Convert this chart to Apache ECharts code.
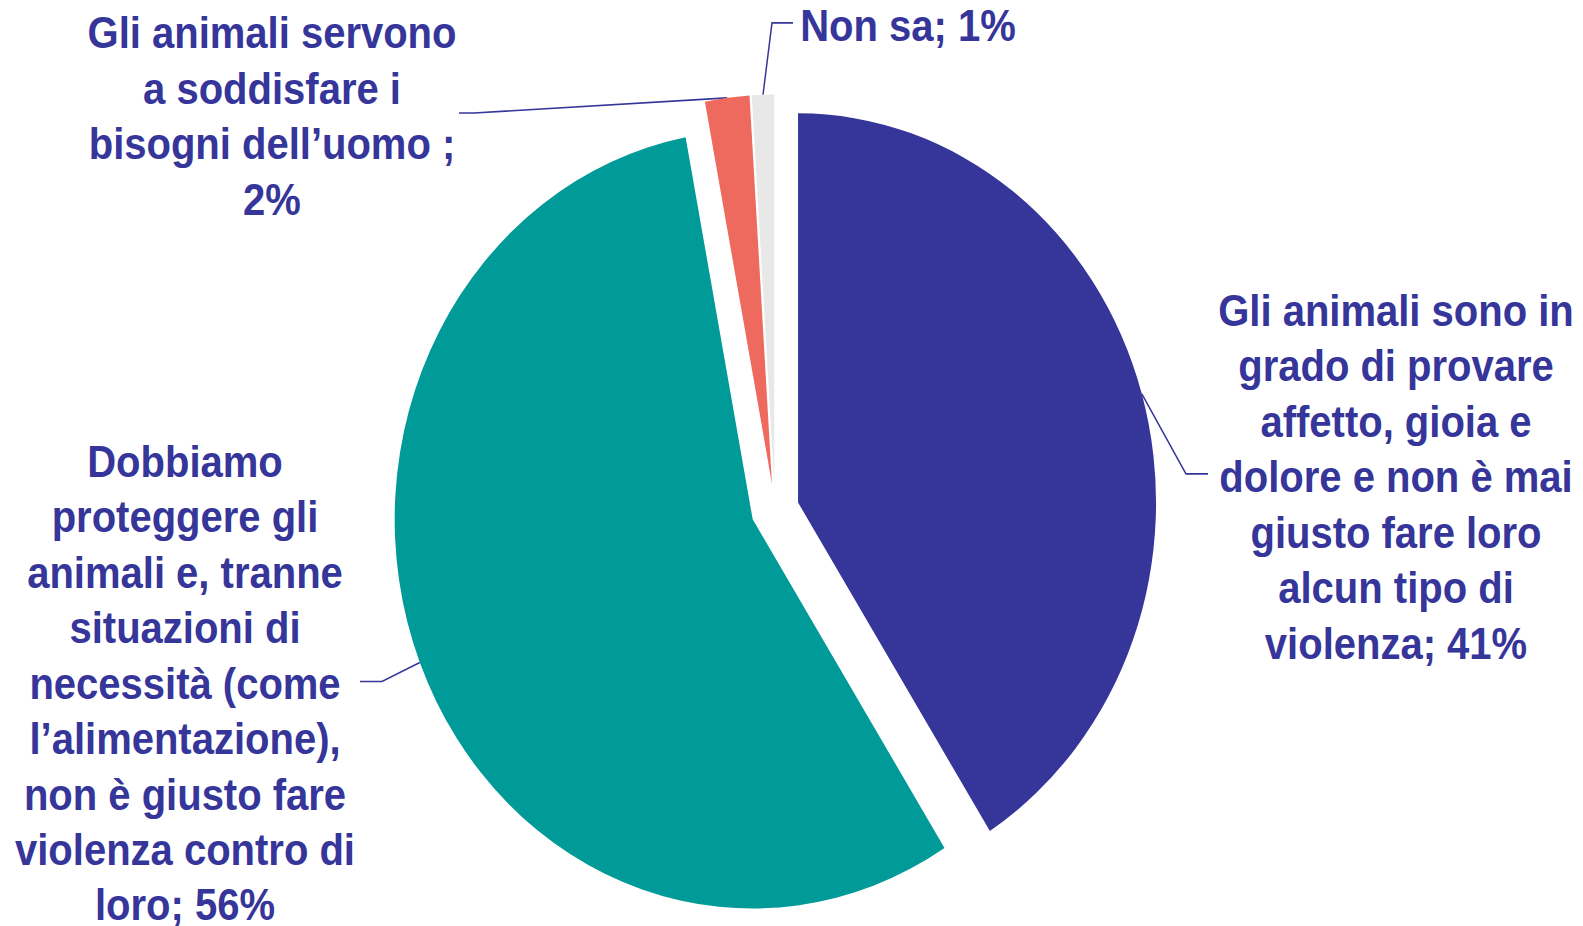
<!DOCTYPE html>
<html>
<head>
<meta charset="utf-8">
<script src="https://cdn.jsdelivr.net/npm/echarts@6/dist/echarts.min.js"></script>
<style>
html,body{margin:0;padding:0;background:#fff;width:1583px;height:926px;overflow:hidden;}
#wrap{width:1583px;height:926px;position:relative;}
/* il grafico originale è stirato in verticale */
#main{position:absolute;left:0;top:0;width:1583px;height:852px;transform:scaleY(1.0869);transform-origin:0 0;}
</style>
</head>
<body>
<div id="wrap"><div id="main"></div></div>
<script>
var categories = [
	'Gli animali sono in\ngrado di provare\naffetto, gioia e\ndolore e non è mai\ngiusto fare loro\nalcun tipo di\nviolenza',
	'Dobbiamo\nproteggere gli\nanimali e, tranne\nsituazioni di\nnecessità (come\nl’alimentazione),\nnon è giusto fare\nviolenza contro di\nloro',
	'Gli animali servono\na soddisfare i\nbisogni dell’uomo ',
	'Non sa'
];
var values = [41, 56, 2, 1];
var separators = ['; ', '; ', ';\n', '; '];
var colors = ['#35359A', '#009A98', '#EE6A5E', '#E8E8E8'];

// posizione delle etichette e gomiti delle linee guida
var labelPos = [[1396, 439], [185, 629], [272, 107], [908, 24]];
var elbows = [
	[[1186, 436], [1208, 436]],
	[[382, 627], [360, 627]],
	[[474, 104], [459, 104]],
	[[772, 21], [793, 21]]
];

var textColor = '#35359A';
var pieCenter = [775, 469];
var pieRadius = 358;
var explode = 24;

var total = 0;
for (var i = 0; i < values.length; i++) total += values[i];

// una serie per fetta, così ogni fetta è staccata dal centro
var series = [];
var cum = 0;
for (var k = 0; k < values.length; k++) {
	var mid = (cum + values[k] / 2) / total * 2 * Math.PI;
	cum += values[k];
	var data = [];
	for (var j = 0; j < values.length; j++) {
		data.push({
			value: values[j],
			name: categories[j],
			itemStyle: {color: j === k ? colors[j] : 'transparent', borderWidth: 0},
			label: {show: j === k},
			labelLine: {show: j === k}
		});
	}
	series.push({
		type: 'pie',
		center: [pieCenter[0] + explode * Math.sin(mid), pieCenter[1] - explode * Math.cos(mid)],
		radius: pieRadius,
		startAngle: 90,
		clockwise: true,
		silent: true,
		avoidLabelOverlap: false,
		emphasis: {disabled: true},
		label: {
			position: 'outside',
			formatter: function(p){
				return p.name + separators[p.dataIndex] + p.value + '%';
			},
			color: textColor,
			fontFamily: 'Liberation Sans, Arial, sans-serif',
			fontWeight: 'bold',
			fontSize: 40,
			lineHeight: 51,
			align: 'center'
		},
		labelLine: {
			length: 20,
			length2: 20,
			smooth: false,
			lineStyle: {color: textColor, width: 1.5}
		},
		labelLayout: function(p){
			var i = p.dataIndex;
			var pts = p.labelLinePoints;
			return {
				x: labelPos[i][0],
				y: labelPos[i][1],
				align: 'center',
				verticalAlign: 'middle',
				labelLinePoints: pts ? [pts[0], elbows[i][0], elbows[i][1]] : undefined
			};
		},
		data: data
	});
}

var myChart = echarts.init(document.getElementById('main'), null, {renderer: 'svg'});
myChart.setOption({animation: false, series: series});
</script>
</body>
</html>
